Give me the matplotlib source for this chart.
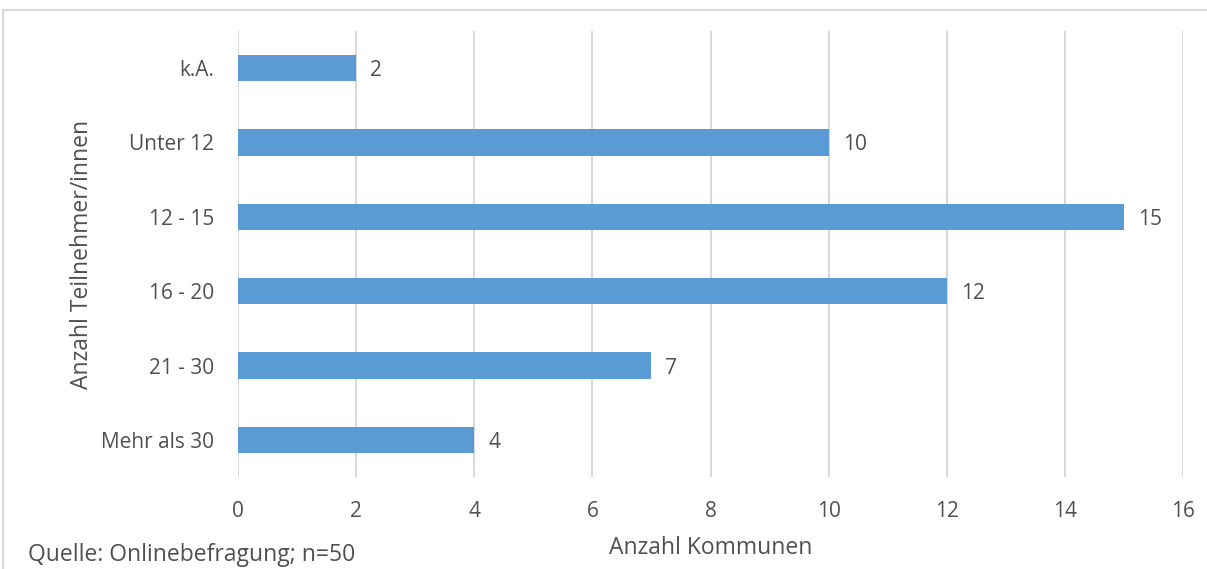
import matplotlib
matplotlib.use("Agg")
import matplotlib.pyplot as plt
from matplotlib.patches import Rectangle

categories = ["k.A.", "Unter 12", "12 - 15", "16 - 20", "21 - 30", "Mehr als 30"]
values = [2, 10, 15, 12, 7, 4]
x_ticks = [0, 2, 4, 6, 8, 10, 12, 14, 16]

W, H = 1207, 569
DPI = 100
plt.rcParams['font.family'] = ['Open Sans', 'DejaVu Sans']
TXT = '#505050'
FS = 15
FS_LAB = 16.5

fig = plt.figure(figsize=(W / DPI, H / DPI), dpi=DPI)
fig.patch.set_facecolor('white')

# outer chart border (only top & left visible)
fig.patches.append(Rectangle((3 / W, -0.1), 1.2, 1 - 10 / H + 0.1, transform=fig.transFigure,
                             fill=False, edgecolor='#D9D9D9', linewidth=1.5, zorder=0))

left, right = 238 / W, 1183 / W
top, bottom = 1 - 30.8 / H, 1 - 477.2 / H
ax = fig.add_axes([left, bottom, right - left, top - bottom])

ypos = list(range(len(categories)))
ax.barh(ypos, values, height=0.355, color='#5B9BD5', zorder=3)
ax.set_ylim(len(categories) - 0.5, -0.5)
ax.set_xlim(0, 16)
ax.set_xticks(x_ticks)
ax.set_yticks(ypos)
ax.set_yticklabels(categories)
ax.tick_params(axis='both', length=0, labelsize=FS, colors=TXT)
ax.tick_params(axis='y', pad=17)
ax.tick_params(axis='x', pad=17)
for s in ax.spines.values():
    s.set_visible(False)
ax.grid(axis='x', color='#D9D9D9', linewidth=1.5, zorder=0)
ax.set_axisbelow(True)

for y, v in zip(ypos, values):
    ax.annotate(str(v), (v, y), xytext=(14, 0), textcoords='offset pixels',
                ha='left', va='center_baseline', fontsize=FS, color=TXT)

fig.text(82 / W, 1 - 254 / H, "Anzahl Teilnehmer/innen", rotation=90, ha='center', va='center',
         fontsize=FS_LAB, color=TXT)
fig.text(711 / W, 1 - 548 / H, "Anzahl Kommunen", ha='center', va='center', fontsize=FS_LAB, color=TXT)
fig.text(28 / W, 1 - 555 / H, "Quelle: Onlinebefragung; n=50", ha='left', va='center', fontsize=FS_LAB, color=TXT)

fig.savefig("out.png", dpi=DPI)
